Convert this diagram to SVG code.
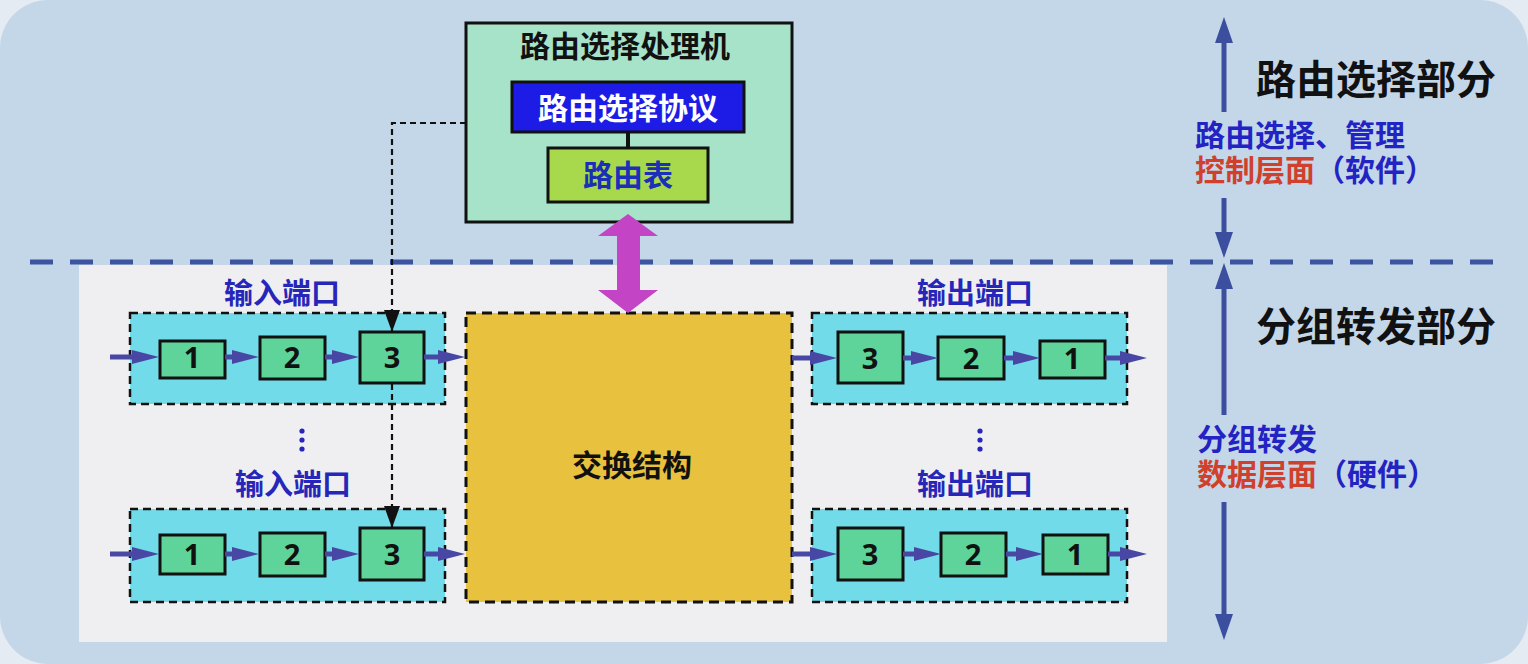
<svg xmlns="http://www.w3.org/2000/svg" width="1528" height="664" viewBox="0 0 1528 664">
<style>
.cjk{font-family:"Noto Sans CJK SC","Noto Sans",sans-serif;font-weight:bold}
.num{font-family:"Noto Sans","Liberation Sans",sans-serif;font-weight:bold;font-size:29px;fill:#111;text-anchor:middle}
.lbl{font-size:29px;fill:#2626b8;text-anchor:middle}
.blue{fill:#2323c4}
.red{fill:#d0402c}
.port{fill:#72dbe9;stroke:#111;stroke-width:2.5;stroke-dasharray:8 5}
.cell{fill:#5ed49b;stroke:#111;stroke-width:3}
.flow{stroke:#4848a4;stroke-width:5;fill:none;marker-end:url(#bh)}
.side{stroke:#3c4f9f;stroke-width:5;fill:none}
.dash{fill:none;stroke:#111;stroke-width:2.2;stroke-dasharray:6 4}
</style>
<defs>
<marker id="bh" viewBox="0 0 27 14" refX="7" refY="7" markerWidth="27" markerHeight="14" markerUnits="userSpaceOnUse" orient="auto">
<path d="M0,0 L27,7 L0,14 z" fill="#4848a4"/>
</marker>
<marker id="kh" viewBox="0 0 22 16" refX="22" refY="8" markerWidth="22" markerHeight="16" markerUnits="userSpaceOnUse" orient="auto">
<path d="M0,0 L22,8 L0,16 z" fill="#111"/>
</marker>
<marker id="sh" viewBox="0 0 26 18" refX="6" refY="9" markerWidth="26" markerHeight="18" markerUnits="userSpaceOnUse" orient="auto">
<path d="M0,0 L26,9 L0,18 z" fill="#3c4f9f"/>
</marker>
</defs>

<rect x="0" y="0" width="1528" height="664" fill="#e4ebf3"/>
<rect x="0" y="0" width="1528" height="664" rx="48" ry="48" fill="#c3d7e8"/>
<rect x="79" y="265" width="1088" height="377" fill="#efeff1"/>
<line x1="30" y1="262" x2="1505" y2="262" stroke="#3d55a0" stroke-width="5" stroke-dasharray="23 17"/>

<g id="processor">
<rect x="466" y="23" width="326" height="199" fill="#a7e3c9" stroke="#111" stroke-width="3"/>
<text class="cjk" x="625" y="57" font-size="30" fill="#111" text-anchor="middle">路由选择处理机</text>
</g>
<g id="protocol">
<rect x="512" y="82" width="232" height="50" fill="#1c1ce6" stroke="#111" stroke-width="3"/>
<text class="cjk" x="628" y="119" font-size="30" fill="#fff" text-anchor="middle">路由选择协议</text>
</g>
<g id="rtable">
<rect x="548" y="148" width="160" height="54" fill="#a8d94c" stroke="#111" stroke-width="3"/>
<text class="cjk" x="628" y="186" font-size="30" fill="#1b2fb8" text-anchor="middle">路由表</text>
</g>

<g id="fabric">
<rect x="466" y="313" width="326" height="289" fill="#e8c23e" stroke="#111" stroke-width="3" stroke-dasharray="10 6"/>
<text class="cjk" x="632" y="476" font-size="30" fill="#111" text-anchor="middle">交换结构</text>
</g>

<g id="in-port-1">
<text class="cjk lbl" x="282" y="304">输入端口</text>
<rect class="port" x="130" y="313" width="315" height="91"/>
<rect class="cell" x="160" y="341" width="65" height="37"/>
<text class="num" x="192" y="368">1</text>
<rect class="cell" x="260" y="337" width="65" height="42"/>
<text class="num" x="292" y="368">2</text>
<rect class="cell" x="360" y="332" width="64" height="51"/>
<text class="num" x="392" y="368">3</text>
</g>
<g id="in-port-2">
<circle cx="302" cy="431" r="2.6" fill="#2626b8"/>
<circle cx="302" cy="440" r="2.6" fill="#2626b8"/>
<circle cx="302" cy="449" r="2.6" fill="#2626b8"/>
<text class="cjk lbl" x="293" y="495">输入端口</text>
<rect class="port" x="130" y="509" width="315" height="93"/>
<rect class="cell" x="160" y="535" width="65" height="39"/>
<text class="num" x="192" y="565">1</text>
<rect class="cell" x="260" y="533" width="65" height="43"/>
<text class="num" x="292" y="565">2</text>
<rect class="cell" x="360" y="528" width="64" height="52"/>
<text class="num" x="392" y="565">3</text>
</g>
<g id="out-port-1">
<text class="cjk lbl" x="975" y="304">输出端口</text>
<rect class="port" x="812" y="313" width="315" height="91"/>
<rect class="cell" x="838" y="332" width="65" height="51"/>
<text class="num" x="870" y="369">3</text>
<rect class="cell" x="938" y="337" width="66" height="42"/>
<text class="num" x="971" y="369">2</text>
<rect class="cell" x="1040" y="341" width="65" height="37"/>
<text class="num" x="1072" y="369">1</text>
</g>
<g id="out-port-2">
<circle cx="980" cy="431" r="2.6" fill="#2626b8"/>
<circle cx="980" cy="440" r="2.6" fill="#2626b8"/>
<circle cx="980" cy="449" r="2.6" fill="#2626b8"/>
<text class="cjk lbl" x="975" y="495">输出端口</text>
<rect class="port" x="812" y="509" width="315" height="93"/>
<rect class="cell" x="838" y="528" width="65" height="52"/>
<text class="num" x="870" y="565">3</text>
<rect class="cell" x="941" y="533" width="65" height="43"/>
<text class="num" x="973" y="565">2</text>
<rect class="cell" x="1043" y="535" width="65" height="39"/>
<text class="num" x="1075" y="565">1</text>
</g>

<g id="connectors">
<line x1="628" y1="132" x2="628" y2="148" stroke="#111" stroke-width="4"/>
<polygon points="628,214 658,236 640,236 640,290 658,290 628,313 598,290 617,290 617,236 598,236" fill="#c344c4"/>
<polyline class="dash" points="466,123 392,123 392,332" marker-end="url(#kh)"/>
<line class="dash" x1="392" y1="384" x2="392" y2="528" marker-end="url(#kh)"/>
<line class="flow" x1="110" y1="357" x2="139" y2="357"/>
<line class="flow" x1="225" y1="357" x2="239" y2="357"/>
<line class="flow" x1="325" y1="357" x2="339" y2="357"/>
<line class="flow" x1="424" y1="357" x2="445" y2="357"/>
<line class="flow" x1="110" y1="554" x2="139" y2="554"/>
<line class="flow" x1="225" y1="554" x2="239" y2="554"/>
<line class="flow" x1="325" y1="554" x2="339" y2="554"/>
<line class="flow" x1="424" y1="554" x2="445" y2="554"/>
<line class="flow" x1="792" y1="358" x2="817" y2="358"/>
<line class="flow" x1="903" y1="358" x2="918" y2="358"/>
<line class="flow" x1="1004" y1="358" x2="1020" y2="358"/>
<line class="flow" x1="1105" y1="358" x2="1127" y2="358"/>
<line class="flow" x1="792" y1="554" x2="817" y2="554"/>
<line class="flow" x1="903" y1="554" x2="921" y2="554"/>
<line class="flow" x1="1006" y1="554" x2="1023" y2="554"/>
<line class="flow" x1="1108" y1="554" x2="1127" y2="554"/>
<line class="side" x1="1224" y1="112" x2="1224" y2="37" marker-end="url(#sh)"/>
<line class="side" x1="1224" y1="198" x2="1224" y2="238" marker-end="url(#sh)"/>
<line class="side" x1="1224" y1="415" x2="1224" y2="283" marker-end="url(#sh)"/>
<line class="side" x1="1224" y1="502" x2="1224" y2="620" marker-end="url(#sh)"/>
</g>

<g id="right-labels">
<text class="cjk" x="1256" y="94" font-size="40" fill="#111">路由选择部分</text>
<text class="cjk" font-size="30"><tspan class="blue" x="1195" y="146">路由选择、管理</tspan><tspan class="red" x="1195" y="181">控制层面</tspan><tspan class="blue">（软件）</tspan></text>
<text class="cjk" x="1256" y="341" font-size="40" fill="#111">分组转发部分</text>
<text class="cjk" font-size="30"><tspan class="blue" x="1197" y="450">分组转发</tspan><tspan class="red" x="1197" y="485">数据层面</tspan><tspan class="blue">（硬件）</tspan></text>
</g>
</svg>
